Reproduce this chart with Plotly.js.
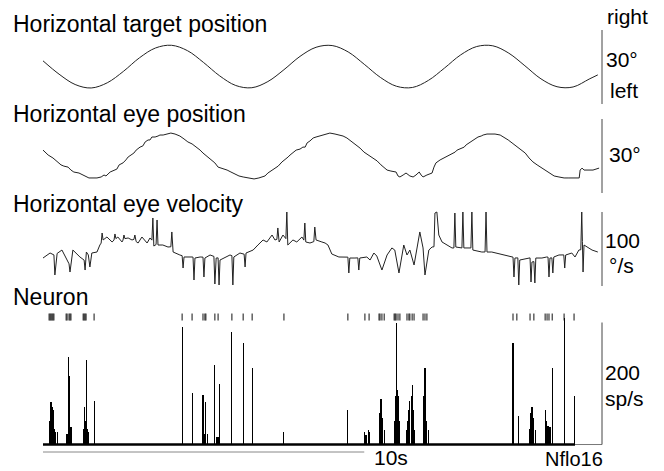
<!DOCTYPE html>
<html>
<head>
<meta charset="utf-8">
<script src="https://cdn.plot.ly/plotly-3.0.1.min.js"></script>
<style>html,body{margin:0;padding:0;background:#fff;}#chart{width:664px;height:471px;}</style>
</head>
<body>
<div id="chart"></div>
<script>
// ---- Data (time in seconds) ----
const targetT = [0,0.5,1,1.5,2,2.5,3,3.5,4,4.5,5,5.5,6,6.5,7,7.5,8,8.5,9,9.5,10,10.5,11,11.5,12,12.5,13,13.5,14,14.5,15,15.5,16,16.5,17,17.27];
const targetDeg = [2.3,-3.1,-7.3,-8.7,-6.6,-2.0,3.5,7.5,8.6,6.4,1.6,-3.8,-7.7,-8.6,-6.1,-1.3,4.1,7.8,8.5,5.9,0.9,-4.4,-8.0,-8.5,-5.6,-0.6,4.7,8.1,8.4,5.4,0.3,-5.0,-8.2,-8.3,-5.1,-3.4];

const eyeT = [0.00,0.16,0.31,0.44,0.56,0.65,0.78,0.87,0.96,1.12,1.25,1.34,1.43,1.68,1.81,1.90,1.96,2.09,2.21,2.30,2.37,2.49,2.58,2.65,2.74,2.83,2.90,3.02,3.11,3.18,3.27,3.33,3.39,3.49,3.58,3.64,3.74,3.86,3.98,4.11,4.26,4.39,4.51,4.64,4.79,4.89,4.98,5.10,5.26,5.35,5.45,5.57,5.73,5.85,5.98,6.10,6.23,6.38,6.57,6.72,6.91,7.00,7.10,7.22,7.32,7.44,7.53,7.63,7.69,7.78,7.88,8.00,8.09,8.16,8.22,8.31,8.41,8.50,8.59,8.69,8.81,8.93,9.09,9.21,9.34,9.46,9.59,9.74,9.87,9.99,10.12,10.27,10.40,10.52,10.62,10.71,10.83,10.99,11.05,11.11,11.21,11.30,11.42,11.52,11.61,11.71,11.77,11.83,11.95,12.11,12.17,12.23,12.36,12.48,12.58,12.64,12.73,12.83,12.89,13.01,13.11,13.17,13.30,13.36,13.42,13.54,13.64,13.70,13.82,13.95,14.07,14.23,14.35,14.48,14.60,14.76,14.88,15.01,15.13,15.25,15.38,15.53,15.66,15.78,15.91,16.06,16.22,16.37,16.53,16.69,16.72,16.78,16.84,16.97,17.12,17.31];
const eyeDeg = [2.4,0.4,-0.8,-2.4,-3.6,-4.1,-4.5,-5.7,-6.5,-6.9,-7.7,-8.5,-8.9,-8.9,-8.5,-7.7,-8.1,-6.5,-5.7,-5.3,-3.6,-2.8,-1.6,-0.4,0.4,1.2,2.4,3.6,4.1,5.7,6.5,6.5,7.7,7.7,8.1,8.5,8.5,8.9,9.3,8.9,8.1,6.9,5.7,4.9,3.6,2.4,1.2,0.0,-1.6,-2.8,-4.5,-4.9,-5.7,-6.5,-7.3,-8.1,-8.5,-8.9,-9.3,-8.9,-8.1,-6.9,-6.1,-4.9,-4.1,-2.4,-1.6,-0.4,0.4,1.2,2.4,2.8,3.6,3.6,5.3,6.1,7.3,7.7,8.1,8.5,8.9,9.3,8.9,8.5,8.1,7.3,6.1,4.5,3.2,1.6,0.4,-0.8,-2.0,-3.6,-4.9,-5.7,-6.1,-6.5,-8.1,-8.5,-7.7,-6.9,-8.1,-8.5,-7.7,-6.5,-7.7,-8.5,-7.7,-6.9,-4.5,-2.8,-1.6,-0.8,0.0,0.4,1.2,1.6,2.4,3.2,3.6,4.5,5.7,6.1,6.9,7.7,8.1,8.5,8.9,8.9,8.9,8.5,7.7,6.5,5.3,3.6,2.4,1.2,-0.8,-2.4,-3.6,-4.9,-6.1,-7.3,-8.1,-8.5,-8.9,-8.9,-8.9,-8.9,-5.7,-4.9,-5.7,-5.7,-5.7,-4.9];

const velT = [0.00,0.22,0.34,0.37,0.44,0.59,0.75,0.81,0.84,0.90,0.93,1.15,1.28,1.31,1.35,1.41,1.46,1.52,1.68,1.77,1.81,1.84,1.87,1.99,2.15,2.21,2.24,2.27,2.33,2.46,2.49,2.52,2.55,2.65,2.77,2.83,2.86,2.90,2.96,3.08,3.24,3.33,3.39,3.42,3.45,3.52,3.55,3.58,3.73,3.89,3.98,4.01,4.05,4.26,4.33,4.36,4.39,4.64,4.67,4.70,4.73,4.89,4.98,5.01,5.04,5.20,5.32,5.35,5.39,5.45,5.48,5.51,5.63,5.82,5.88,5.91,5.94,6.13,6.26,6.29,6.32,6.54,6.69,6.85,6.97,7.13,7.22,7.28,7.31,7.35,7.47,7.56,7.59,7.62,7.78,7.90,8.06,8.12,8.15,8.18,8.31,8.43,8.46,8.50,8.68,8.78,8.87,8.99,9.21,9.46,9.49,9.52,9.55,9.71,9.80,9.83,9.86,10.08,10.18,10.30,10.39,10.55,10.71,10.86,10.95,11.08,11.23,11.33,11.42,11.55,11.67,11.73,11.83,11.89,12.01,12.11,12.17,12.20,12.26,12.32,12.42,12.57,12.73,12.79,12.82,12.85,12.98,13.04,13.07,13.10,13.26,13.32,13.35,13.38,13.66,13.76,13.79,13.82,13.97,14.38,14.60,14.63,14.66,14.69,14.78,14.81,14.84,15.06,15.16,15.19,15.22,15.28,15.31,15.34,15.53,15.68,15.72,15.75,15.78,15.84,15.87,15.90,16.06,16.21,16.24,16.27,16.46,16.56,16.68,16.74,16.77,16.79,16.81,16.84,16.93,17.09,17.27];
const velDegS = [-12.2,-5.4,-8,-35.1,-6,-1.4,-14.9,-20,-31.1,-5,-1.4,-10.8,-15,-28.4,-4.1,-8,-24.3,-5.4,-4.1,5.4,8,21.6,12.2,16.2,9.5,12,20.3,14,16.2,9.5,12,18.9,14,14.9,12.2,13,18.9,10,8.1,16.2,8.1,14.9,12,41.9,4,6,39.2,5.4,5.4,2.7,3,23.0,-4.1,-8.1,-9,-25.7,-10.8,-10.8,-11,-41.9,-12.2,-10.8,-11,-37.8,-12.2,-8.1,-10,-47.3,-12.2,-12,-48.6,-14.9,-12.2,-8.1,-9,-48.6,-10.8,-5.4,-7,-24.3,-5.4,-1.4,5.4,12.2,9.5,18.9,12.2,13,28.4,9.5,18.9,14,50.0,5.4,12.2,9.5,16.2,12,35.1,9.5,8.1,10,29.7,12.2,9.5,8.1,5.4,-6.8,-10.8,-10.8,-11,-32.4,-12.2,-12.2,-12,-28.4,-12.2,-10.8,-14.9,-5.4,-9.5,-28.4,-8.1,1.4,-1.4,-32.4,5.4,-8.1,-1.4,-21.6,9.5,23.0,1.4,-35.1,-1.4,2.7,3,48.6,50.0,18.9,9.5,5.4,1.4,1.4,48.6,2.7,1.4,1.4,50.0,1.4,1.4,1.4,50.0,-1.4,-4.1,-4,50.0,-4.1,-4.1,-8.1,-10.8,-11,-37.8,-12.2,-12,-48.6,-14.9,-12.2,-12,-44.6,-17.6,-17,-45.9,-12.2,-12.2,-10.8,-11,-37.8,-12.2,-12,-32.4,-10.8,-8.1,-8,-25.7,-8.1,-5.4,-10.8,-1.4,-1,50.0,10,-31.1,5.4,2.7,-1.4,-4.1];

const rateT = [0.19,0.22,0.25,0.28,0.31,0.34,0.37,0.40,0.44,0.72,0.75,0.78,0.81,0.84,0.87,0.90,1.25,1.28,1.31,1.34,1.37,1.40,1.43,1.59,4.33,4.64,4.98,5.01,5.04,5.07,5.11,5.35,5.39,5.42,5.45,5.48,5.88,6.23,6.51,7.50,9.49,10.02,10.05,10.08,10.12,10.15,10.46,10.49,10.52,10.55,10.58,10.62,10.93,10.96,10.99,11.02,11.05,11.08,11.11,11.33,11.36,11.39,11.42,11.46,11.49,11.52,11.55,11.83,11.86,11.89,11.92,11.95,11.99,14.63,14.79,15.16,15.19,15.22,15.25,15.28,15.32,15.63,15.66,15.69,15.72,15.75,15.78,15.81,15.85,16.22,16.53];
const rateSps = [39,64,69,62,57,33,26,20,20,18,18,143,113,23,28,18,26,62,39,139,26,20,18,72,192,84,82,18,18,70,18,131,13,13,13,100,184,167,125,20,56,20,16,16,23,20,39,51,74,66,43,23,39,80,200,90,80,39,23,23,39,56,72,80,97,56,23,39,80,126,72,39,23,167,46,26,52,61,52,44,23,56,39,28,31,28,28,15,126,207,79];

const spikeT = [0.19,0.22,0.25,0.28,0.31,0.34,0.72,0.75,0.81,0.84,0.87,1.25,1.28,1.31,1.34,1.59,4.33,4.64,4.98,5.04,5.07,5.35,5.45,5.88,6.23,6.51,7.50,9.49,10.02,10.15,10.46,10.49,10.55,10.62,10.93,10.96,10.99,11.05,11.11,11.33,11.39,11.42,11.49,11.55,11.83,11.89,11.95,14.63,14.75,15.16,15.28,15.63,15.69,15.75,15.85,16.22,16.53];

const panelTitles = ["Horizontal target position","Horizontal eye position","Horizontal eye velocity","Neuron"];
const scaleLabels = ["right","30°","left","30°","100","°/s","200","sp/s"];
const timeBarSec = 10;
const timeBarLabel = "10s";
const cellName = "Nflo16";

// ---- Layout helpers (pixel -> paper) ----
const W = 664, H = 471;
const px = v => v / W;
const py = v => 1 - v / H;
const FONT = "Liberation Sans, Arial, Helvetica, sans-serif";
const lineCol = "#222";

const spikeRow = spikeT.map(() => 209);
const baseEnd = 16.56;

const traces = [
  {x: targetT, y: targetDeg, type: "scatter", mode: "lines", line: {color: lineCol, width: 1, shape: "spline"}, xaxis: "x", yaxis: "y", hoverinfo: "skip"},
  {x: eyeT, y: eyeDeg, type: "scatter", mode: "lines", line: {color: lineCol, width: 1}, xaxis: "x", yaxis: "y2", hoverinfo: "skip"},
  {x: velT, y: velDegS, type: "scatter", mode: "lines", line: {color: lineCol, width: 1}, xaxis: "x", yaxis: "y3", hoverinfo: "skip"},
  {x: [0, baseEnd], y: [0, 0], type: "scatter", mode: "lines", line: {color: "#000", width: 2.5}, xaxis: "x", yaxis: "y4", hoverinfo: "skip"},
  {x: rateT, y: rateSps, type: "bar", width: 0.034, marker: {color: "#000", line: {width: 0}}, xaxis: "x", yaxis: "y4", hoverinfo: "skip"},
  {x: spikeT, y: spikeRow, type: "scatter", mode: "markers", cliponaxis: false,
   marker: {symbol: "line-ns", size: 5, color: "#111", line: {color: "#111", width: 1}}, xaxis: "x", yaxis: "y4", hoverinfo: "skip"}
];

const hidden = {visible: false, showgrid: false, zeroline: false, fixedrange: true};
const barX = px(602);

const shapes = [
  {type: "line", xref: "paper", yref: "y", x0: barX, x1: barX, y0: -15.2, y1: 14.8, line: {color: "#444", width: 1}},
  {type: "line", xref: "paper", yref: "y2", x0: barX, x1: barX, y0: -15, y1: 15, line: {color: "#444", width: 1}},
  {type: "line", xref: "paper", yref: "y3", x0: barX, x1: barX, y0: -50, y1: 50, line: {color: "#444", width: 1}},
  {type: "line", xref: "paper", yref: "y4", x0: barX, x1: barX, y0: 0, y1: 200, line: {color: "#444", width: 1}},
  {type: "line", xref: "x", yref: "y4", x0: 0, x1: 17.4, y0: 0, y1: 0, line: {color: "#777", width: 1}, layer: "below"},
  {type: "line", xref: "x", yref: "paper", x0: 0, x1: timeBarSec, y0: py(452), y1: py(452), line: {color: "#888", width: 1}}
];

function ann(text, x, y, size, anchor) {
  return {text: text, xref: "paper", yref: "paper", x: px(x), y: py(y), xanchor: anchor || "left", yanchor: "middle",
          showarrow: false, font: {family: FONT, size: size, color: "#000"}};
}

const annotations = [
  ann(panelTitles[0], 11, 24, 23),
  ann(panelTitles[1], 11, 114, 23),
  ann(panelTitles[2], 11, 204, 23),
  ann(panelTitles[3], 11, 297, 23),
  ann(scaleLabels[0], 605, 17, 21),
  ann(scaleLabels[1], 604, 60, 21),
  ann(scaleLabels[2], 608, 91, 21),
  ann(scaleLabels[3], 607, 155, 21),
  ann(scaleLabels[4], 603, 240, 21),
  ann(scaleLabels[5], 621, 265, 21, "center"),
  ann(scaleLabels[6], 603, 372, 21),
  ann(scaleLabels[7], 603, 398, 21),
  ann(timeBarLabel, 372, 457, 21),
  ann(cellName, 543, 459, 20)
];

const layout = {
  width: W, height: H,
  margin: {l: 0, r: 0, t: 0, b: 0, pad: 0},
  paper_bgcolor: "#fff", plot_bgcolor: "rgba(0,0,0,0)",
  showlegend: false, bargap: 0,
  xaxis: Object.assign({domain: [px(43), px(602)], range: [0, 17.4], anchor: "y4"}, hidden),
  yaxis: Object.assign({domain: [py(106), py(28)], range: [-16.01, 15.61], anchor: "x"}, hidden),
  yaxis2: Object.assign({domain: [py(197), py(115)], range: [-16.62, 16.62], anchor: "x"}, hidden),
  yaxis3: Object.assign({domain: [py(290), py(208)], range: [-55.4, 55.4], anchor: "x"}, hidden),
  yaxis4: Object.assign({domain: [py(448), py(310)], range: [-5.7, 220.5], anchor: "x"}, hidden),
  shapes: shapes,
  annotations: annotations
};

Plotly.newPlot("chart", traces, layout, {staticPlot: true, displayModeBar: false});
</script>
</body>
</html>
